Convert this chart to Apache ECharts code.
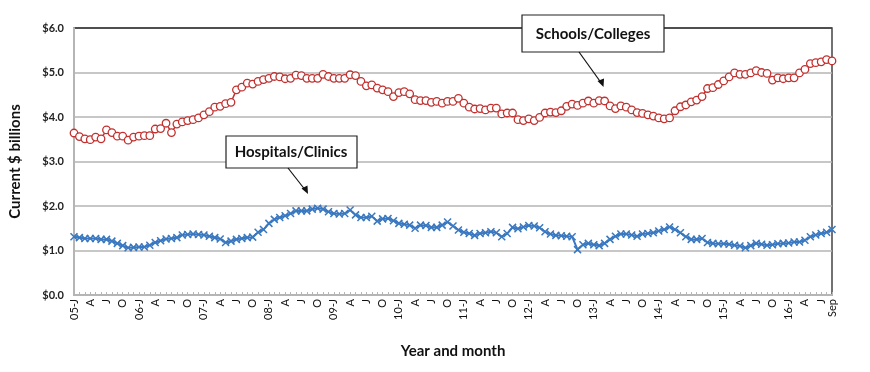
<!DOCTYPE html>
<html><head><meta charset="utf-8">
<script src="https://cdn.jsdelivr.net/npm/echarts@6/dist/echarts.min.js"></script>
<style>html,body{margin:0;padding:0;background:#fff}#c{width:870px;height:372px}</style>
</head><body><div id="c"></div>
<script>
const startYear = 2005, monthCount = 141;
const yTicks = [0, 1, 2, 3, 4, 5, 6];
const quarterLetters = {0: 'J', 3: 'A', 6: 'J', 9: 'O'};
const lastLabel = 'Sep';
const schools = [3.64,3.56,3.51,3.49,3.55,3.51,3.71,3.65,3.57,3.57,3.48,3.55,3.57,3.58,3.58,3.73,3.74,3.86,3.65,3.84,3.89,3.92,3.94,3.98,4.05,4.12,4.22,4.24,4.30,4.33,4.61,4.67,4.76,4.74,4.80,4.84,4.87,4.91,4.90,4.86,4.87,4.94,4.93,4.87,4.87,4.87,4.96,4.91,4.87,
4.87,4.87,4.95,4.93,4.80,4.70,4.72,4.65,4.61,4.57,4.46,4.55,4.57,4.52,4.39,4.37,4.37,4.33,4.35,4.31,4.35,4.35,4.42,4.31,4.22,4.18,4.19,4.16,4.20,4.20,4.07,4.09,4.09,3.94,3.92,3.96,3.92,3.99,4.09,4.11,4.10,4.14,4.24,4.29,4.26,4.31,
4.36,4.31,4.37,4.36,4.25,4.19,4.25,4.22,4.16,4.10,4.08,4.05,4.02,3.98,3.96,3.98,4.14,4.23,4.27,4.34,4.38,4.46,4.64,4.66,4.73,4.81,4.90,4.99,4.96,4.96,4.99,5.04,5.00,4.98,4.83,4.88,4.86,4.88,4.88,4.99,5.07,5.20,5.22,5.24,5.29,5.26];
const hospitals = [1.31,1.29,1.27,1.27,1.27,1.25,1.25,1.21,1.16,1.11,1.06,1.07,1.08,1.08,1.12,1.18,1.22,1.26,1.27,1.29,1.35,1.36,1.37,1.36,1.35,1.32,1.29,1.26,1.18,1.21,1.25,1.27,1.29,1.30,1.41,1.47,1.61,1.70,1.74,1.78,1.83,1.89,1.89,1.89,1.93,1.95,1.93,1.87,1.83,1.82,1.83,1.91,1.80,1.74,1.74,1.77,1.66,1.71,1.72,1.67,1.61,1.59,1.57,1.50,1.57,1.56,1.52,1.52,1.57,
1.64,1.55,1.46,1.41,1.38,1.34,1.38,1.40,1.42,1.40,1.31,1.38,1.52,1.49,1.53,1.56,1.55,1.51,1.42,1.37,1.34,1.33,1.32,1.31,1.02,1.13,1.16,1.13,1.11,1.16,1.25,1.32,1.37,1.37,1.35,1.32,1.37,1.38,1.40,1.44,1.47,1.53,1.47,1.40,1.31,1.25,1.25,1.27,1.18,1.16,1.15,1.15,1.14,1.12,1.10,1.06,1.11,1.16,1.14,1.12,1.13,1.15,1.16,1.17,1.19,1.19,1.23,1.31,1.35,1.38,1.41,1.47];

const categories = [];
const tickLabels = [];
for (let i = 0; i < monthCount; i++) {
  const y = startYear + Math.floor(i / 12), m = i % 12;
  categories.push(y + '-' + String(m + 1).padStart(2, '0'));
  let lab = '';
  if (i === monthCount - 1) lab = lastLabel;
  else if (m === 0) lab = String(y % 100).padStart(2, '0') + '-J';
  else if (quarterLetters[m]) lab = quarterLetters[m];
  tickLabels.push(lab);
}

const FONT = 'Lato';
const chart = echarts.init(document.getElementById('c'), null, {renderer: 'canvas'});
const gridLeft = 67, gridTop = 28, gridRight = 38, gridBottom = 77;

chart.setOption({
  animation: false,
  backgroundColor: '#fff',
  textStyle: {fontFamily: FONT},
  grid: {left: gridLeft, top: gridTop, right: gridRight, bottom: gridBottom, show: true, borderColor: '#444', borderWidth: 1.5, backgroundColor: 'transparent'},
  xAxis: {
    type: 'category', data: categories, boundaryGap: false,
    name: 'Year and month', nameLocation: 'middle', nameGap: 49,
    nameTextStyle: {fontFamily: FONT, fontWeight: 'bold', fontSize: 15, color: '#111'},
    axisLine: {show: true, lineStyle: {color: '#b5b5b5', width: 2}},
    axisTick: {show: true, inside: true, length: 3, interval: 0, lineStyle: {color: '#b5b5b5', width: 1}},
    axisLabel: {
      rotate: 90, margin: 4, fontSize: 11, color: '#111', fontFamily: FONT,
      interval: function (i) { return tickLabels[i] !== ''; },
      formatter: function (v, i) { return tickLabels[i]; },
      showMaxLabel: true, hideOverlap: false
    },
    splitLine: {show: false}
  },
  yAxis: {
    type: 'value', min: yTicks[0], max: yTicks[yTicks.length - 1], interval: 1,
    name: 'Current $ billions', nameLocation: 'middle', nameGap: 51,
    nameTextStyle: {fontFamily: FONT, fontWeight: 'bold', fontSize: 15, color: '#111'},
    axisLine: {show: true, lineStyle: {color: '#b5b5b5', width: 2}},
    axisTick: {show: false},
    axisLabel: {formatter: function (v) { return '$' + v.toFixed(1); }, fontSize: 11, fontWeight: 'bold', color: '#222', margin: 10, fontFamily: FONT},
    splitLine: {show: true, lineStyle: {color: ['#b5b5b5','#b5b5b5','#b5b5b5','#b5b5b5','#b5b5b5','#b5b5b5','#444'], width: 1.5}}
  },
  series: [
    {
      name: 'Schools/Colleges', type: 'line', data: schools,
      symbol: 'circle', symbolSize: 7.5, showSymbol: true, showAllSymbol: true,
      lineStyle: {color: '#c0312f', width: 1.5},
      itemStyle: {color: '#fff', borderColor: '#c0312f', borderWidth: 1.3},
      z: 3
    },
    {
      name: 'Hospitals/Clinics', type: 'line', data: hospitals,
      symbol: 'path://M0,0L10,10M10,0L0,10', symbolSize: 7, showSymbol: true, showAllSymbol: true,
      lineStyle: {color: '#3a78c0', width: 2},
      itemStyle: {color: '#3a78c0', borderColor: '#3a78c0', borderWidth: 1.5},
      z: 3
    }
  ],
  graphic: [
    {type: 'rect', shape: {x: 522, y: 15, width: 142, height: 37}, style: {fill: '#fff', stroke: '#222', lineWidth: 1.2}, z: 10},
    {type: 'text', x: 593, y: 34, style: {text: 'Schools/Colleges', fontFamily: FONT, fontSize: 15, fontWeight: 'bold', fill: '#111', textAlign: 'center', textVerticalAlign: 'middle'}, z: 11},
    {type: 'line', shape: {x1: 579, y1: 52, x2: 602, y2: 84}, style: {stroke: '#111', lineWidth: 1.2}, z: 10},
    {type: 'polygon', shape: {points: [[603.5, 87], [597.5, 81], [604, 78.5]]}, style: {fill: '#111'}, z: 10},
    {type: 'rect', shape: {x: 226, y: 136, width: 131, height: 32}, style: {fill: '#fff', stroke: '#222', lineWidth: 1.2}, z: 10},
    {type: 'text', x: 291, y: 152, style: {text: 'Hospitals/Clinics', fontFamily: FONT, fontSize: 15, fontWeight: 'bold', fill: '#111', textAlign: 'center', textVerticalAlign: 'middle'}, z: 11},
    {type: 'line', shape: {x1: 288, y1: 168, x2: 306, y2: 191}, style: {stroke: '#111', lineWidth: 1.2}, z: 10},
    {type: 'polygon', shape: {points: [[308, 194], [301.5, 188.5], [307.5, 185.5]]}, style: {fill: '#111'}, z: 10}
  ]
});
</script></body></html>
